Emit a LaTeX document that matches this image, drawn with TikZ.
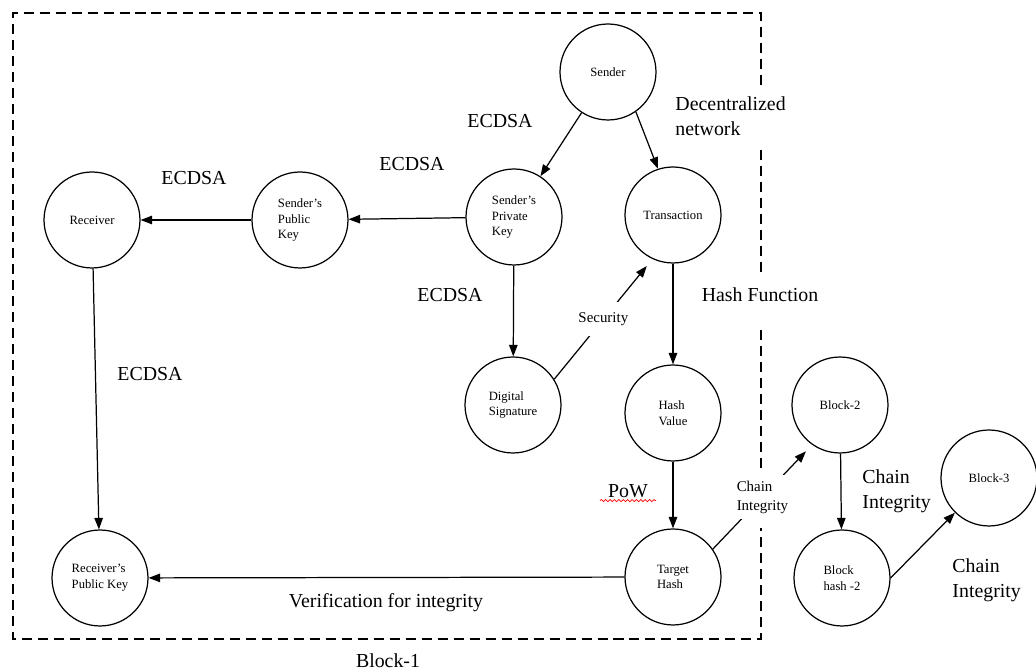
\documentclass[tikz,border=0pt]{standalone}
\usepackage{fontspec}
\setmainfont{Liberation Serif}
\usetikzlibrary{arrows.meta,decorations.pathmorphing}

\begin{document}
\begin{tikzpicture}[x=0.02cm, y=-0.02cm, line width=0.7pt,
    bubble/.style={draw, circle, minimum size=1.92cm, inner sep=0pt, align=left,
      font=\fontsize{7.2}{9}\selectfont},
    lab/.style={font=\fontsize{11.3}{14.2}\selectfont, align=left},
    smalllab/.style={font=\fontsize{8.5}{10.8}\selectfont, align=left, fill=white},
    frame/.style={dash pattern=on 5.7pt off 3.4pt},
    >={Triangle[length=2.3mm,width=1.7mm]}]
  \useasboundingbox (0,0) rectangle (1036,671);

  % block 1
  \node[bubble] (snd) at (608, 72) {Sender};
  \node[bubble] (prv) at (514, 217) {Sender's\\Private\\Key};
  \node[bubble] (tx) at (673, 215) {Transaction};
  \node[bubble] (pub) at (300, 220) {Sender's\\Public\\Key};
  \node[bubble] (rcv) at (92, 220) {Receiver};
  \node[bubble] (sig) at (513, 405) {Digital\\Signature};
  \node[bubble] (hv) at (673, 413) {Hash\\Value};
  \node[bubble] (th) at (673, 577) {Target\\Hash};
  \node[bubble] (rpk) at (100, 578) {Receiver's\\Public Key};

  % next blocks
  \node[bubble] (b2) at (840, 405) {Block-2};
  \node[bubble] (bh2) at (842, 578) {Block\\hash -2};
  \node[bubble] (b3) at (989, 478) {Block-3};

  % labels
  \node[lab] (ec1) at (500, 121) {ECDSA};
  \node[lab] (ec2) at (412, 164) {ECDSA};
  \node[lab] (ec3) at (194, 178) {ECDSA};
  \node[lab] (ec4) at (450, 295) {ECDSA};
  \node[lab] (ec5) at (150, 374) {ECDSA};
  \node[lab, anchor=west] (net) at (669, 116) {Decentralized\\network};
  \node[lab] (hf) at (760, 295) {Hash Function};
  \node[lab] (pow) at (628, 491) {PoW};
  \node[lab, anchor=west] (ci1) at (856, 491) {Chain\\Integrity};
  \node[lab, anchor=west] (ci2) at (946, 580) {Chain\\Integrity};
  \node[lab] (ver) at (386, 603) {Verification for integrity};
  \node[lab] (blk) at (388, 661) {Block-1};

  \draw[red, line width=0.4pt, decorate, decoration={snake, amplitude=0.6pt, segment length=2.5pt}]
    ([xshift=-1pt, yshift=2pt]pow.south west) -- ([xshift=1pt, yshift=2pt]pow.south east);

  % dashed frame of block 1
  \draw[frame] (761,85) -- (761,13) -- (13,13) -- (13,639) -- (761,639) -- (761,528);
  \draw[frame] (761,150) -- (761,275);
  \draw[frame] (761,330) -- (761,472);

  \draw[->] (snd) -- (prv);
  \draw[->] (snd.-55) -- (tx.108);
  \draw[->] (prv) -- (pub);
  \draw[->] (pub) -- (rcv);
  \draw[->] (rcv) -- (rpk);
  \draw[->] (prv) -- (sig);
  \draw[->] (tx) -- (hv);
  \draw[->] (hv) -- (th);
  \draw[->] (th) -- (rpk);
  \draw[->, shorten >=0.18cm] (sig.32) -- node[smalllab, inner xsep=1pt, inner ysep=6pt] {Security} (tx.245);
  \draw[->, shorten >=0.18cm] (th.35) -- node[smalllab, inner sep=3pt] {Chain\\Integrity} (b2.235);
  \draw[->] (b2) -- (bh2);
  \draw[->] (bh2.east) -- (b3);
\end{tikzpicture}
\end{document}
